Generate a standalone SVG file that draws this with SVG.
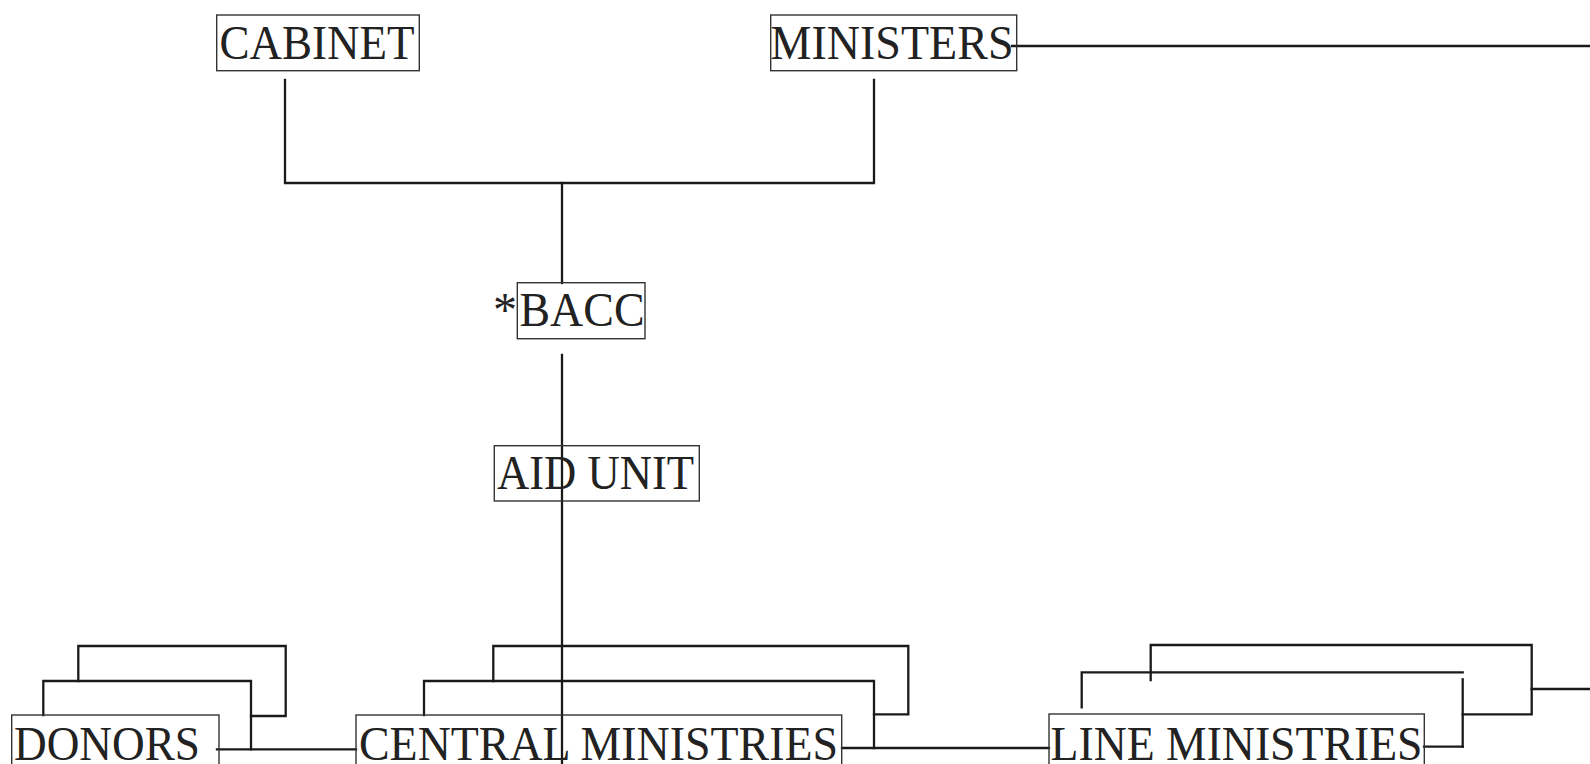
<svg xmlns="http://www.w3.org/2000/svg" width="1590" height="764" viewBox="0 0 1590 764">
  <style>
    .box { fill: none; stroke: #333; stroke-width: 1.4; }
    .lbl { font-family: "Liberation Serif", "Times New Roman", serif; font-size: 48px; fill: #222; }
    .wire { fill: none; stroke: #1a1a1a; stroke-width: 2.3; stroke-linecap: square; }
  </style>
  <rect width="1590" height="764" fill="#ffffff"/>

  <!-- connectors -->
  <g id="connectors">
    <!-- cabinet / ministers to BACC -->
    <polyline class="wire" points="285,80 285,183 874,183 874,80"/>
    <line class="wire" x1="562" y1="183" x2="562" y2="283"/>
    <!-- ministers to the right edge -->
    <line class="wire" x1="1012" y1="46" x2="1590" y2="46"/>
    <!-- BACC down through aid unit and central ministries -->
    <line class="wire" x1="562" y1="355" x2="562" y2="764"/>
    <!-- donors to central ministries -->
    <line class="wire" x1="217" y1="749.3" x2="356" y2="749.3"/>
    <!-- central ministries to line ministries -->
    <line class="wire" x1="842" y1="748" x2="1049" y2="748"/>
    <!-- line ministries to the right edge -->
    <line class="wire" x1="1424" y1="746.7" x2="1462.7" y2="746.7"/>
    <line class="wire" x1="1531.7" y1="689" x2="1590" y2="689"/>
  </g>

  <g id="cabinet">
    <rect class="box" x="216.7" y="15" width="202.6" height="55.7"/>
    <text class="lbl" x="219.5" y="58.5" textLength="195" lengthAdjust="spacingAndGlyphs">CABINET</text>
  </g>

  <g id="ministers">
    <rect class="box" x="770.7" y="15" width="246" height="55.7"/>
    <text class="lbl" x="770.5" y="59" textLength="243" lengthAdjust="spacingAndGlyphs">MINISTERS</text>
  </g>

  <g id="bacc">
    <text class="lbl" x="517" y="326" text-anchor="end">*</text>
    <rect class="box" x="517.3" y="282.7" width="127.7" height="56"/>
    <text class="lbl" x="519.5" y="326" textLength="125" lengthAdjust="spacingAndGlyphs">BACC</text>
  </g>

  <g id="aid-unit">
    <rect class="box" x="494.3" y="445.7" width="205" height="55.3"/>
    <text class="lbl" x="497" y="489.3" textLength="197" lengthAdjust="spacingAndGlyphs">AID UNIT</text>
  </g>

  <g id="donors">
    <polyline class="wire" points="78.3,681 78.3,646 285.7,646 285.7,716 251,716"/>
    <polyline class="wire" points="43.3,715 43.3,681 251,681 251,749.3"/>
    <rect class="box" x="11.7" y="715" width="207.3" height="60"/>
    <text class="lbl" x="14" y="760" textLength="186" lengthAdjust="spacingAndGlyphs">DONORS</text>
  </g>

  <g id="central-ministries">
    <polyline class="wire" points="493.3,681 493.3,646 908.3,646 908.3,714.3 874,714.3"/>
    <polyline class="wire" points="424,715 424,681 874,681 874,748"/>
    <rect class="box" x="356" y="715" width="485.7" height="60"/>
    <text class="lbl" x="359" y="760" textLength="479" lengthAdjust="spacingAndGlyphs">CENTRAL MINISTRIES</text>
  </g>

  <g id="line-ministries">
    <polyline class="wire" points="1150.7,680 1150.7,645 1531.7,645 1531.7,714.3 1462.7,714.3"/>
    <polyline class="wire" points="1081.7,707.3 1081.7,672.3 1462.7,672.3"/>
    <line class="wire" x1="1462.7" y1="679.3" x2="1462.7" y2="746.7"/>
    <rect class="box" x="1049" y="714" width="375.3" height="60"/>
    <text class="lbl" x="1050.5" y="760" textLength="372" lengthAdjust="spacingAndGlyphs">LINE MINISTRIES</text>
  </g>
</svg>
